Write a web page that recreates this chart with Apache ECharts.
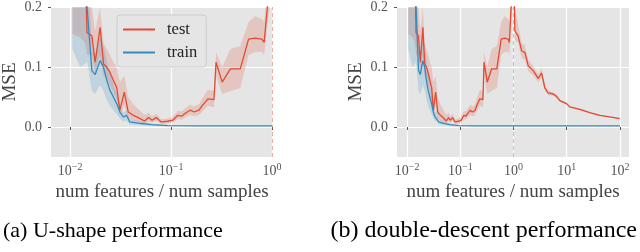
<!DOCTYPE html>
<html><head><meta charset="utf-8">
<script src="https://cdn.jsdelivr.net/npm/echarts@6/dist/echarts.min.js"></script>
<style>html,body{margin:0;padding:0;background:#fff}#c{width:640px;height:252px}</style>
</head><body><div id="c"></div>
<script>
// ---- data ----
// test MSE, x <= 1 (shared by both panels)
const testX  = [0.0105,0.0125,0.0140,0.0147,0.0164,0.0177,0.0198,0.0214,0.0231,0.0248,0.0268,0.0289,0.0311,0.0344,0.0376,0.0422,0.0472,0.0547,0.0598,0.0647,0.0713,0.0798,0.0929,0.104,0.1164,0.1274,0.137,0.1545,0.169,0.189,0.2045,0.232,0.266,0.279,0.321,0.387,0.485,0.586,0.681,0.793,0.836,0.90,0.935,1.0];
const testY  = [0.42,0.36,0.28,0.157,0.152,0.108,0.166,0.105,0.0995,0.091,0.0775,0.066,0.028,0.058,0.025,0.0195,0.0157,0.010,0.0157,0.0113,0.0157,0.0084,0.0096,0.0113,0.0195,0.018,0.0224,0.028,0.025,0.028,0.036,0.047,0.0455,0.108,0.0747,0.097,0.097,0.1465,0.148,0.1465,0.141,0.199,0.22,0.28];
const testLo = [0.155,0.15,0.14,0.12,0.12,0.09,0.12,0.085,0.08,0.07,0.058,0.046,0.018,0.036,0.015,0.011,0.009,0.006,0.009,0.007,0.01,0.005,0.006,0.007,0.013,0.012,0.016,0.02,0.018,0.02,0.026,0.035,0.033,0.085,0.055,0.06,0.065,0.12,0.125,0.125,0.12,0.17,0.19,0.24];
const testHi = [0.8,0.7,0.5,0.25,0.2,0.16,0.2,0.14,0.13,0.12,0.108,0.1,0.075,0.085,0.05,0.038,0.03,0.02,0.024,0.018,0.022,0.013,0.014,0.017,0.027,0.026,0.031,0.037,0.034,0.038,0.048,0.062,0.06,0.125,0.1,0.13,0.135,0.175,0.185,0.18,0.175,0.24,0.26,0.32];
// test MSE, x > 1 (right panel only)
const extX  = [1.06,1.22,1.42,1.64,1.89,2.34,2.91,3.37,3.88,4.48,5.56,6.44,7.42,9.91,11.4,17.6,27.1,41.8,64.4,99.1];
const extY  = [0.160,0.152,0.127,0.124,0.102,0.094,0.081,0.090,0.065,0.057,0.055,0.051,0.044,0.039,0.0336,0.0295,0.024,0.0195,0.0167,0.014];
const extLo = [0.145,0.14,0.115,0.112,0.093,0.086,0.075,0.082,0.06,0.053,0.052,0.048,0.042,0.037,0.032,0.028,0.023,0.0185,0.016,0.0133];
const extHi = [0.2,0.17,0.14,0.136,0.112,0.102,0.088,0.097,0.07,0.061,0.058,0.054,0.046,0.041,0.035,0.031,0.025,0.0205,0.0174,0.0147];
// train MSE
const trainX  = [0.0105,0.0125,0.0140,0.0147,0.0164,0.0177,0.0198,0.0214,0.0231,0.0248,0.0268,0.0289,0.0311,0.0336,0.0362,0.039,0.0509,0.0637,0.0929,0.197,1.0,3,10,30,100];
const trainY  = [0.45,0.38,0.30,0.20,0.094,0.0874,0.1106,0.0995,0.0775,0.061,0.050,0.039,0.025,0.0167,0.0195,0.0084,0.0058,0.0038,0.0022,0.0018,0.0018,0.0018,0.0018,0.0018,0.0018];
const trainLo = [0.13,0.10,0.105,0.11,0.06,0.055,0.07,0.06,0.045,0.035,0.028,0.022,0.014,0.009,0.011,0.004,0.003,0.002,0.0015,0.0015,0.0015,0.0015,0.0015,0.0015,0.0015];
const trainHi = [0.7,0.6,0.5,0.3,0.13,0.12,0.15,0.135,0.11,0.088,0.072,0.056,0.036,0.024,0.028,0.013,0.009,0.006,0.003,0.0021,0.0021,0.0021,0.0021,0.0021,0.0021];
// ticks / markers
const yTicks = [0.0, 0.1, 0.2];
const xTicksLeft = [0.01, 0.1, 1];
const xTicksRight = [0.01, 0.1, 1, 10, 100];
const vlineX = [1];
const seriesNames = ['test', 'train'];
const captions = ['(a) U-shape performance', '(b) double-descent performance'];

// ---- chart ----
const RED = '#E24A33', BLUE = '#348ABD';
const FONT = 'Liberation Serif';
const zip = (xs, ys) => xs.map((x, i) => [x, ys[i]]);
const keepLeft = (arr, xs) => arr.filter((_, i) => xs[i] <= 1);

// shaded band drawn as one polygon through the axes' own scales
function band(id, xs, lo, hi, color, gi) {
  const rows = xs.map((x, i) => [x, lo[i], hi[i]]);
  return {type:'custom', name:id, xAxisIndex:gi, yAxisIndex:gi, silent:true, z:1,
    encode:{x:0, y:[1,2]}, data:rows,
    renderItem:function(params, api) {
      if (params.dataIndex !== 0) return null;
      const top = rows.map(r => api.coord([r[0], r[2]]));
      const bot = rows.map(r => api.coord([r[0], r[1]])).reverse();
      const cs = params.coordSys;
      return {type:'polygon', shape:{points: top.concat(bot)}, style:{fill:color},
        clipPath:{type:'rect', shape:{x:cs.x, y:cs.y, width:cs.width, height:cs.height}}};
    }};
}
function lineS(name, xs, ys, color, gi, mark) {
  const s = {type:'line', name:name, xAxisIndex:gi, yAxisIndex:gi, data: zip(xs, ys), symbol:'none',
    clip:true, z:3, lineStyle:{color:color, width:1.3}, itemStyle:{color:color}};
  if (mark) s.markLine = {silent:true, symbol:'none', label:{show:false},
    lineStyle:{type:[4,3], color:'rgba(226,74,51,0.45)', width:1}, data: vlineX.map(v => ({xAxis:v}))};
  return s;
}
const supMinus = e => (e < 0 ? '\u2212' + (-e) : '' + e);
const xLabel = v => '{b|10}{s|' + supMinus(Math.round(Math.log10(v))) + '}';

function xAxisCfg(gi, min, max, ticks) {
  return {type:'log', logBase:10, gridIndex:gi, min:min, max:max,
    axisLine:{show:false},
    axisTick:{show:true, length:3, lineStyle:{color:'#555'}, customValues:ticks},
    axisLabel:{customValues:ticks, formatter:xLabel, margin:5,
      rich:{b:{fontFamily:FONT, fontSize:14, color:'#555'}, s:{fontFamily:FONT, fontSize:10, color:'#555', padding:[0,0,8,0]}}},
    splitLine:{show:true, lineStyle:{color:'#fff', width:1.2}},
    name:'num features / num samples', nameLocation:'middle', nameGap:24,
    nameTextStyle:{fontFamily:FONT, fontSize:19, color:'#444'}};
}
function yAxisCfg(gi) {
  return {type:'value', gridIndex:gi, min:-0.05, max:0.2,
    axisLine:{show:false},
    axisTick:{show:true, length:3, lineStyle:{color:'#555'}, customValues:yTicks},
    axisLabel:{customValues:yTicks, formatter:v => v.toFixed(1), margin:9, fontFamily:FONT, fontSize:14, color:'#555'},
    splitLine:{show:true, lineStyle:{color:'#fff', width:1.2}},
    name:'MSE', nameLocation:'middle', nameGap:31,
    nameTextStyle:{fontFamily:FONT, fontSize:19, color:'#444'}};
}

const rTestX = testX.concat(extX);
const series = [
  band('tL', testX, testLo, testHi, 'rgba(226,74,51,0.2)', 0),
  band('trL', keepLeft(trainX, trainX), keepLeft(trainLo, trainX), keepLeft(trainHi, trainX), 'rgba(52,138,189,0.2)', 0),
  lineS(seriesNames[0], testX, testY, RED, 0, true),
  lineS(seriesNames[1], keepLeft(trainX, trainX), keepLeft(trainY, trainX), BLUE, 0, false),
  band('tR', rTestX, testLo.concat(extLo), testHi.concat(extHi), 'rgba(226,74,51,0.2)', 1),
  band('trR', trainX, trainLo, trainHi, 'rgba(52,138,189,0.2)', 1),
  lineS(seriesNames[0], rTestX, testY.concat(extY), RED, 1, true),
  lineS(seriesNames[1], trainX, trainY, BLUE, 1, false)
];

const chart = echarts.init(document.getElementById('c'), null, {renderer:'canvas'});
chart.setOption({
  animation:false,
  backgroundColor:'#fff',
  grid:[
    {left:49, right:367, top:6, bottom:95, show:true, backgroundColor:'#E5E5E5', borderWidth:0},
    {left:397, right:11, top:6, bottom:95, show:true, backgroundColor:'#E5E5E5', borderWidth:0}
  ],
  xAxis:[xAxisCfg(0, Math.pow(10,-2.19), Math.pow(10,0.01), xTicksLeft),
         xAxisCfg(1, Math.pow(10,-2.19), Math.pow(10,2.17), xTicksRight)],
  yAxis:[yAxisCfg(0), yAxisCfg(1)],
  legend:{data:seriesNames.map(n => ({name:n})), orient:'vertical', left:117, top:15,
    itemWidth:32, itemHeight:2, icon:'rect', itemGap:4, padding:[5,9,5,6],
    backgroundColor:'#E5E5E5', borderColor:'#CCCCCC', borderWidth:1, borderRadius:3,
    textStyle:{fontFamily:FONT, fontSize:16.5, color:'#222', lineHeight:19, padding:[0,0,0,7]}},
  graphic:[
    {type:'text', left:3, top:220, style:{text:captions[0], font:'22px "Liberation Serif"', fill:'#000'}},
    {type:'text', right:3, top:219, style:{text:captions[1], font:'24px "Liberation Serif"', fill:'#000'}}
  ],
  series:series
});
</script>
</body></html>
